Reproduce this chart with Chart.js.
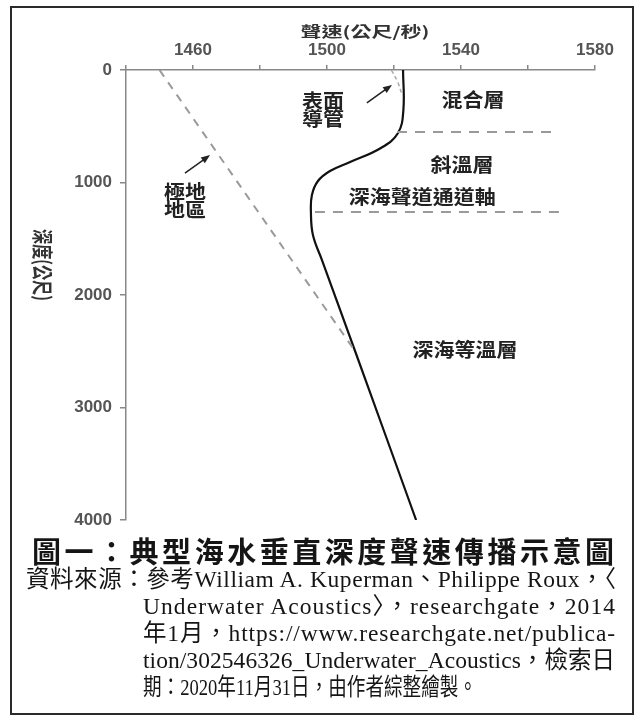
<!DOCTYPE html>
<html>
<head>
<meta charset="utf-8">
<script src="https://cdn.jsdelivr.net/npm/chart.js@4.4.1/dist/chart.umd.min.js"></script>
<style>
  html, body { margin: 0; padding: 0; background: #fff; }
  body { width: 638px; height: 724px; position: relative; overflow: hidden; }
  #chart { position: absolute; left: 0; top: 0; }
  .frame { position: absolute; left: 10px; top: 6px; width: 624px; height: 709px; box-sizing: border-box; border: 2px solid #2a2a2a; pointer-events: none; }
  .caption { position: absolute; left: 32px; top: 534px; font: 700 29px "Noto Sans CJK TC"; line-height: 32px; color: #151515; white-space: nowrap; }
  .source { position: absolute; left: 26px; top: 566px; font: 23.5px "Liberation Serif", "Noto Sans CJK TC"; line-height: 27px; color: #151515; }
  .source div { white-space: nowrap; }
  .source .indent { padding-left: 117px; }
  .fit, .squeeze { display: inline-block; white-space: nowrap; transform-origin: left center; }
</style>
</head>
<body>
<canvas id="chart" width="638" height="540"></canvas>
<div class="frame"></div>
<div class="caption"><span class="fit" data-fit="582">圖一：典型海水垂直深度聲速傳播示意圖</span></div>
<div class="source">
  <div><span class="fit" data-fit="590">資料來源：參考William A. Kuperman、Philippe Roux，〈</span></div>
  <div class="indent"><span class="fit" data-fit="472">Underwater Acoustics〉，researchgate，2014</span></div>
  <div class="indent"><span class="fit" data-fit="472">年1月，https://www.researchgate.net/publica-</span></div>
  <div class="indent"><span class="fit" data-fit="472">tion/302546326_Underwater_Acoustics，檢索日</span></div>
  <div class="indent"><span class="squeeze" data-fit="334">期：2020年11月31日，由作者綜整繪製。</span></div>
</div>
<script>
const labelledSpeeds = [1460, 1500, 1540, 1580];

// typical sound speed profile (depth m, speed m/s)
const profileDepth = [0, 356, 560, 693, 818, 898, 987, 1111, 1262, 1467, 1689, 2500, 3200, 4000];
const profileSpeed = [1522.7, 1522.8, 1521.2, 1516.1, 1506.9, 1500.9, 1497.3, 1495.5, 1495.2, 1495.8, 1498.5, 1508.4, 1516.9, 1526.6];

// polar region profile
const polarDepth = [0, 2500];
const polarSpeed = [1450, 1508.4];

// surface duct
const ductDepth = [0, 100, 220];
const ductSpeed = [1519.2, 1521.0, 1522.4];

// layer boundaries
const mixedDepth = [551, 551];
const mixedSpeed = [1520.9, 1568.7];
const axisDepth = [1262, 1262];
const axisSpeed = [1496.4, 1571.0];

// text labels inside the plot
const layerLabels = ['表面', '導管', '混合層', '斜溫層', '深海聲道通道軸', '深海等溫層', '極地', '地區'];
const labelSpeed = [1498.8, 1498.8, 1543.6, 1540.3, 1528.4, 1541.2, 1457.6, 1457.6];
const labelDepth = [273, 429, 267, 844, 1129, 2489, 1084, 1244];

// pointer arrows [from, to]
const arrowFromSpeed = [1511.9, 1457.6];
const arrowFromDepth = [293, 916];
const arrowToSpeed = [1519.4, 1465.1];
const arrowToDepth = [133, 756];

const zip = (xs, ys) => xs.map((x, i) => ({ x: x, y: ys[i] }));

const squashText = (ctx, text, x, y, sx, sy) => {
  ctx.save();
  ctx.translate(x, y);
  ctx.scale(sx, sy);
  ctx.fillText(text, 0, 0);
  ctx.restore();
};

const annotations = {
  id: 'annotations',
  afterDatasetsDraw(chart) {
    const ctx = chart.ctx;
    const xs = chart.scales.x, ys = chart.scales.y;
    const area = chart.chartArea;
    ctx.save();
    ctx.fillStyle = '#222';
    ctx.textAlign = 'center';
    ctx.textBaseline = 'middle';

    ctx.font = 'bold 21px "Noto Sans CJK TC"';
    layerLabels.forEach((t, i) => {
      squashText(ctx, t, xs.getPixelForValue(labelSpeed[i]), ys.getPixelForValue(labelDepth[i]), 1, 0.92);
    });

    // arrows
    ctx.strokeStyle = '#222';
    ctx.lineWidth = 1.5;
    arrowFromSpeed.forEach((s, i) => {
      const x1 = xs.getPixelForValue(s), y1 = ys.getPixelForValue(arrowFromDepth[i]);
      const x2 = xs.getPixelForValue(arrowToSpeed[i]), y2 = ys.getPixelForValue(arrowToDepth[i]);
      const a = Math.atan2(y2 - y1, x2 - x1);
      ctx.beginPath();
      ctx.moveTo(x1, y1);
      ctx.lineTo(x2 - 6 * Math.cos(a), y2 - 6 * Math.sin(a));
      ctx.stroke();
      ctx.beginPath();
      ctx.moveTo(x2, y2);
      ctx.lineTo(x2 - 9 * Math.cos(a) + 3.5 * Math.sin(a), y2 - 9 * Math.sin(a) - 3.5 * Math.cos(a));
      ctx.lineTo(x2 - 9 * Math.cos(a) - 3.5 * Math.sin(a), y2 - 9 * Math.sin(a) + 3.5 * Math.cos(a));
      ctx.closePath();
      ctx.fill();
    });

    // axis titles
    ctx.fillStyle = '#333';
    ctx.font = 'bold 21px "Noto Sans CJK TC"';
    squashText(ctx, '聲速(公尺/秒)', area.left + 239, area.top - 38, 1, 0.68);

    ctx.save();
    ctx.translate(area.left - 83, area.top + 195);
    ctx.rotate(Math.PI / 2);
    ctx.scale(0.72, 1);
    ctx.fillText('深度(公尺)', 0, 0);
    ctx.restore();

    ctx.restore();
  }
};

const axisGrid = { display: true, drawOnChartArea: false, drawTicks: true, color: '#888', lineWidth: 1.5 };
const tickFont = { family: 'Liberation Sans', size: 17, weight: 'bold' };

new Chart(document.getElementById('chart'), {
  type: 'scatter',
  data: {
    datasets: [
      { data: zip(mixedSpeed, mixedDepth), borderColor: '#9a9a9a', borderWidth: 1.8, borderDash: [10, 8] },
      { data: zip(axisSpeed, axisDepth), borderColor: '#9a9a9a', borderWidth: 1.8, borderDash: [10, 8] },
      { data: zip(polarSpeed, polarDepth), borderColor: '#9a9a9a', borderWidth: 2, borderDash: [8, 7] },
      { data: zip(ductSpeed, ductDepth), borderColor: '#aaa', borderWidth: 1.5, borderDash: [4, 3], tension: 0.4 },
      { data: zip(profileSpeed, profileDepth), borderColor: '#111', borderWidth: 2.2, tension: 0.4 }
    ]
  },
  options: {
    responsive: false,
    animation: false,
    showLine: true,
    elements: { point: { radius: 0, hoverRadius: 0 } },
    layout: { padding: { left: 0, top: 0, right: 43, bottom: 20 } },
    plugins: { legend: { display: false }, tooltip: { enabled: false } },
    scales: {
      x: {
        type: 'linear',
        position: 'top',
        min: 1440,
        max: 1580,
        afterFit: (scale) => { scale.height = 70; },
        grid: Object.assign({ tickLength: 5 }, axisGrid),
        border: { display: true, color: '#888', width: 1.5 },
        ticks: {
          stepSize: 20,
          padding: 4,
          color: '#555',
          font: tickFont,
          callback: (v) => labelledSpeeds.includes(v) ? String(v) : ''
        }
      },
      y: {
        type: 'linear',
        reverse: true,
        min: 0,
        max: 4000,
        afterFit: (scale) => { scale.width = 126; },
        grid: Object.assign({ tickLength: 6 }, axisGrid),
        border: { display: true, color: '#888', width: 1.5 },
        ticks: {
          stepSize: 1000,
          padding: 8,
          color: '#555',
          font: tickFont,
          callback: (v) => String(v)
        }
      }
    }
  },
  plugins: [annotations]
});

// stretch or condense caption lines to the widths on the printed page
const fitLines = () => {
  document.querySelectorAll('.fit').forEach(el => {
    el.style.letterSpacing = '0px';
    const natural = el.getBoundingClientRect().width;
    const n = [...el.textContent].length;
    el.style.letterSpacing = ((parseFloat(el.dataset.fit) - natural) / (n - 1)) + 'px';
  });
  document.querySelectorAll('.squeeze').forEach(el => {
    el.style.transform = 'none';
    const natural = el.getBoundingClientRect().width;
    el.style.transform = 'scaleX(' + (parseFloat(el.dataset.fit) / natural) + ')';
  });
};
fitLines();
document.fonts.ready.then(fitLines);
</script>
</body>
</html>
